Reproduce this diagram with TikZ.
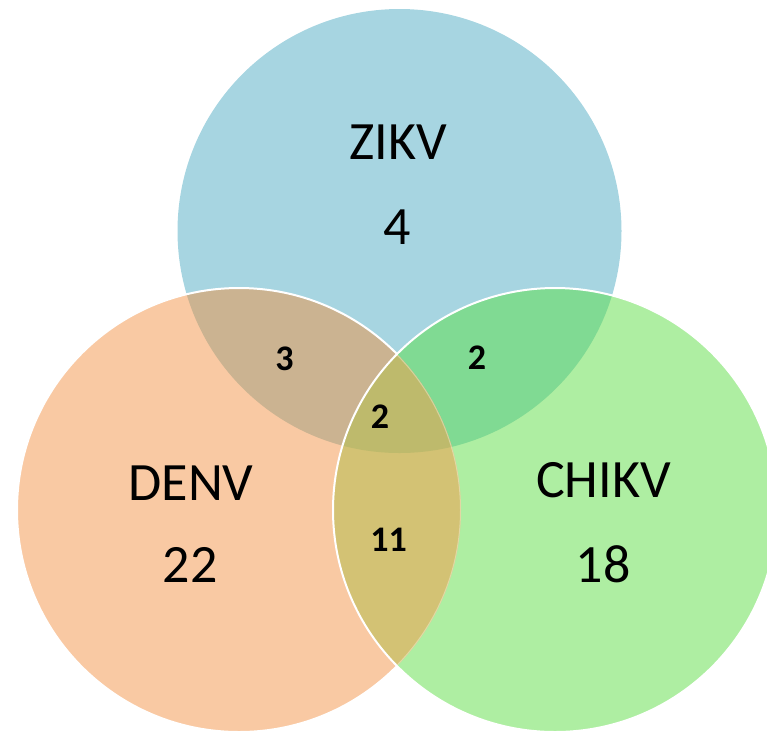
\documentclass[tikz,border=0pt]{standalone}
\usepackage{fontspec}
\setmainfont{Carlito}
\definecolor{zblue}{HTML}{A7D5E1}
\definecolor{dorange}{HTML}{F9C9A3}
\definecolor{cgreen}{HTML}{AEEEA2}
\definecolor{zdbrown}{HTML}{CBB391}
\definecolor{zcgreen}{HTML}{80DA93}
\definecolor{dcolive}{HTML}{D3C274}
\definecolor{allolive}{HTML}{BEBA6C}
\newcommand{\smallfnt}{\fontsize{36}{40}\selectfont\bfseries}
\tikzset{
  biglabel/.style={inner sep=0pt, font=\fontsize{54}{60}\selectfont},
  smalllabel/.style={inner sep=0pt, font=\smallfnt},
  border/.style={draw=white, line width=2pt}
}
\begin{document}
\begin{tikzpicture}[x=1pt,y=-1pt]
\useasboundingbox (0,0) rectangle (767,732);
\def\R{222}
\coordinate (zc) at (399.5,231);
\coordinate (dc) at (239,510);
\coordinate (cc) at (555,510);
% ZIKV
\fill[zblue] (zc) circle[radius=\R];
% DENV
\fill[dorange] (dc) circle[radius=\R];
\begin{scope}
  \clip (zc) circle[radius=\R];
  \fill[zdbrown] (dc) circle[radius=\R];
\end{scope}
\draw[border] (dc) circle[radius=\R];
% CHIKV
\fill[cgreen] (cc) circle[radius=\R];
\begin{scope}
  \clip (cc) circle[radius=\R];
  \fill[zcgreen] (zc) circle[radius=\R];
  \fill[dcolive] (dc) circle[radius=\R];
  \clip (dc) circle[radius=\R];
  \fill[allolive] (zc) circle[radius=\R];
  \draw[draw=white, opacity=0.35, line width=2pt] (dc) circle[radius=\R];
\end{scope}
\draw[border] (cc) circle[radius=\R];
% labels
\node[biglabel] (zname) at (398.5,142.5) {ZIKV};
\node[biglabel] (znum) at (397.5,227) {4};
\node[biglabel] (dname) at (191,483.5) {DENV};
\node[biglabel] (dnum) at (190,565) {22};
\node[biglabel] (cname) at (603.5,480.5) {CHIKV};
\node[biglabel] (cnum) at (603,564.5) {18};
\node[smalllabel] (zd) at (284.5,358.5) {3};
\node[smalllabel] (zcn) at (477,357.5) {2};
\node[smalllabel] (zdc) at (380,416.5) {2};
\node[smalllabel] (dcn) at (388.5,540) {11};
\end{tikzpicture}
\end{document}
